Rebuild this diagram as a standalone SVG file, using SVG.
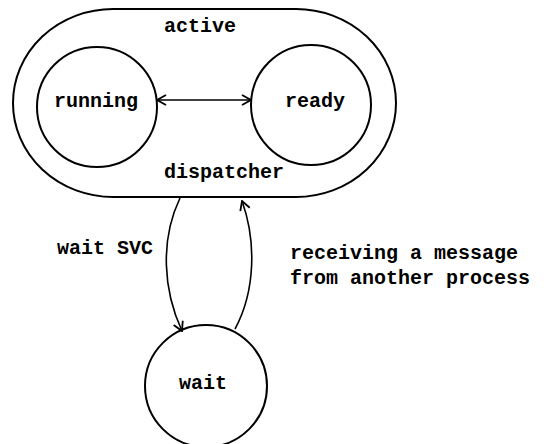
<svg xmlns="http://www.w3.org/2000/svg" width="546" height="444" viewBox="0 0 546 444">
  <defs>
    <style>
      .shape { fill: none; stroke: #000; stroke-width: 2; }
      .conn { fill: none; stroke: #000; stroke-width: 1.6; }
      .lbl { font-family: "Liberation Mono", "Courier New", monospace; font-size: 20px; font-weight: bold; fill: #000; }
    </style>
    <marker id="arrow" viewBox="0 0 12 12" refX="11" refY="6" markerWidth="12" markerHeight="12" markerUnits="userSpaceOnUse" orient="auto-start-reverse">
      <polyline points="2,1 11,6 2,11" fill="none" stroke="#000" stroke-width="1.8"/>
    </marker>
  </defs>
  <rect width="546" height="444" fill="#fff"/>

  <g id="active">
    <rect class="shape" x="13" y="9" width="383" height="188" rx="100" ry="94"/>
    <text class="lbl" x="164" y="32">active</text>
    <text class="lbl" x="164" y="178">dispatcher</text>
  </g>

  <g id="running">
    <circle class="shape" cx="97" cy="107" r="60"/>
    <text class="lbl" x="54" y="107">running</text>
  </g>

  <g id="ready">
    <circle class="shape" cx="311" cy="105" r="60"/>
    <text class="lbl" x="285" y="107">ready</text>
  </g>

  <g id="wait">
    <circle class="shape" cx="206" cy="386" r="61"/>
    <text class="lbl" x="179" y="389">wait</text>
  </g>

  <g id="connectors">
    <line class="conn" x1="157" y1="100" x2="251" y2="100" marker-start="url(#arrow)" marker-end="url(#arrow)"/>
    <path class="conn" d="M 180 198 C 160 240, 163 290, 182 331" marker-end="url(#arrow)"/>
    <path class="conn" d="M 235 329 C 256 290, 256 240, 242 201" marker-end="url(#arrow)"/>
  </g>

  <g id="labels">
    <text class="lbl" x="57" y="254">wait SVC</text>
    <text class="lbl" x="290" y="259">receiving a message</text>
    <text class="lbl" x="290" y="284">from another process</text>
  </g>
</svg>
